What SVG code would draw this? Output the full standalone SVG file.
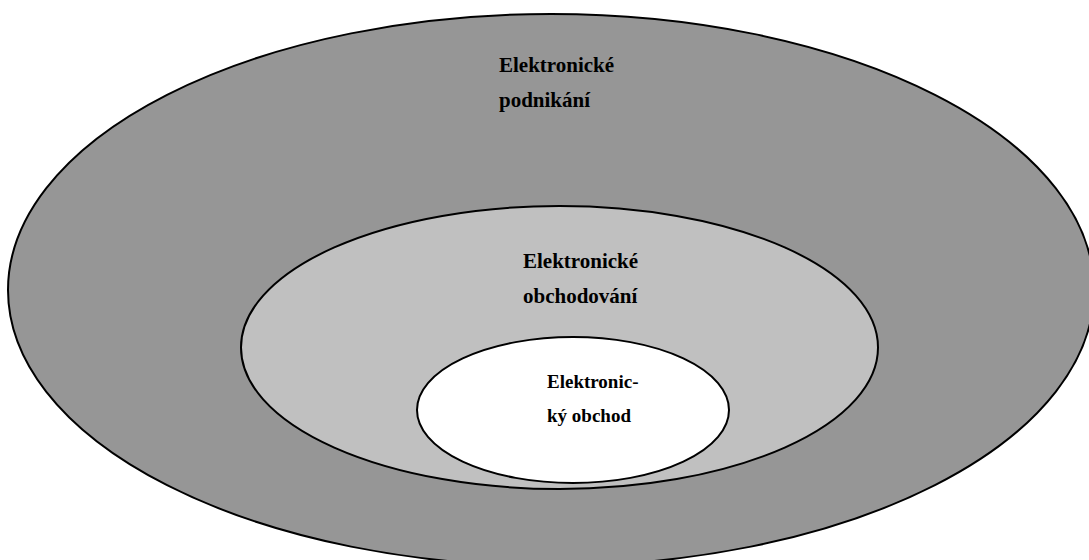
<svg xmlns="http://www.w3.org/2000/svg" width="1089" height="560" viewBox="0 0 1089 560">
  <style>
    .ring { stroke: #000; stroke-width: 2; }
    .lbl { font-family: "Liberation Serif", "Times New Roman", serif; font-weight: bold; fill: #000; }
  </style>
  <rect width="1089" height="560" fill="#fff"/>
  <g id="elektronicke-podnikani">
    <ellipse class="ring" cx="551" cy="290" rx="543" ry="276" fill="#969696"/>
    <text class="lbl" x="499" y="72" font-size="21">Elektronické</text>
    <text class="lbl" x="499" y="107" font-size="21">podnikání</text>
  </g>
  <g id="elektronicke-obchodovani">
    <ellipse class="ring" cx="559.5" cy="347.5" rx="318.5" ry="141.5" fill="#c0c0c0"/>
    <text class="lbl" x="523" y="268" font-size="21">Elektronické</text>
    <text class="lbl" x="523" y="303" font-size="21">obchodování</text>
  </g>
  <g id="elektronicky-obchod">
    <ellipse class="ring" cx="573" cy="410" rx="156" ry="73" fill="#fff"/>
    <text class="lbl" x="547" y="388" font-size="19">Elektronic-</text>
    <text class="lbl" x="547" y="422" font-size="19">ký obchod</text>
  </g>
  <g id="connectors"/>
</svg>
